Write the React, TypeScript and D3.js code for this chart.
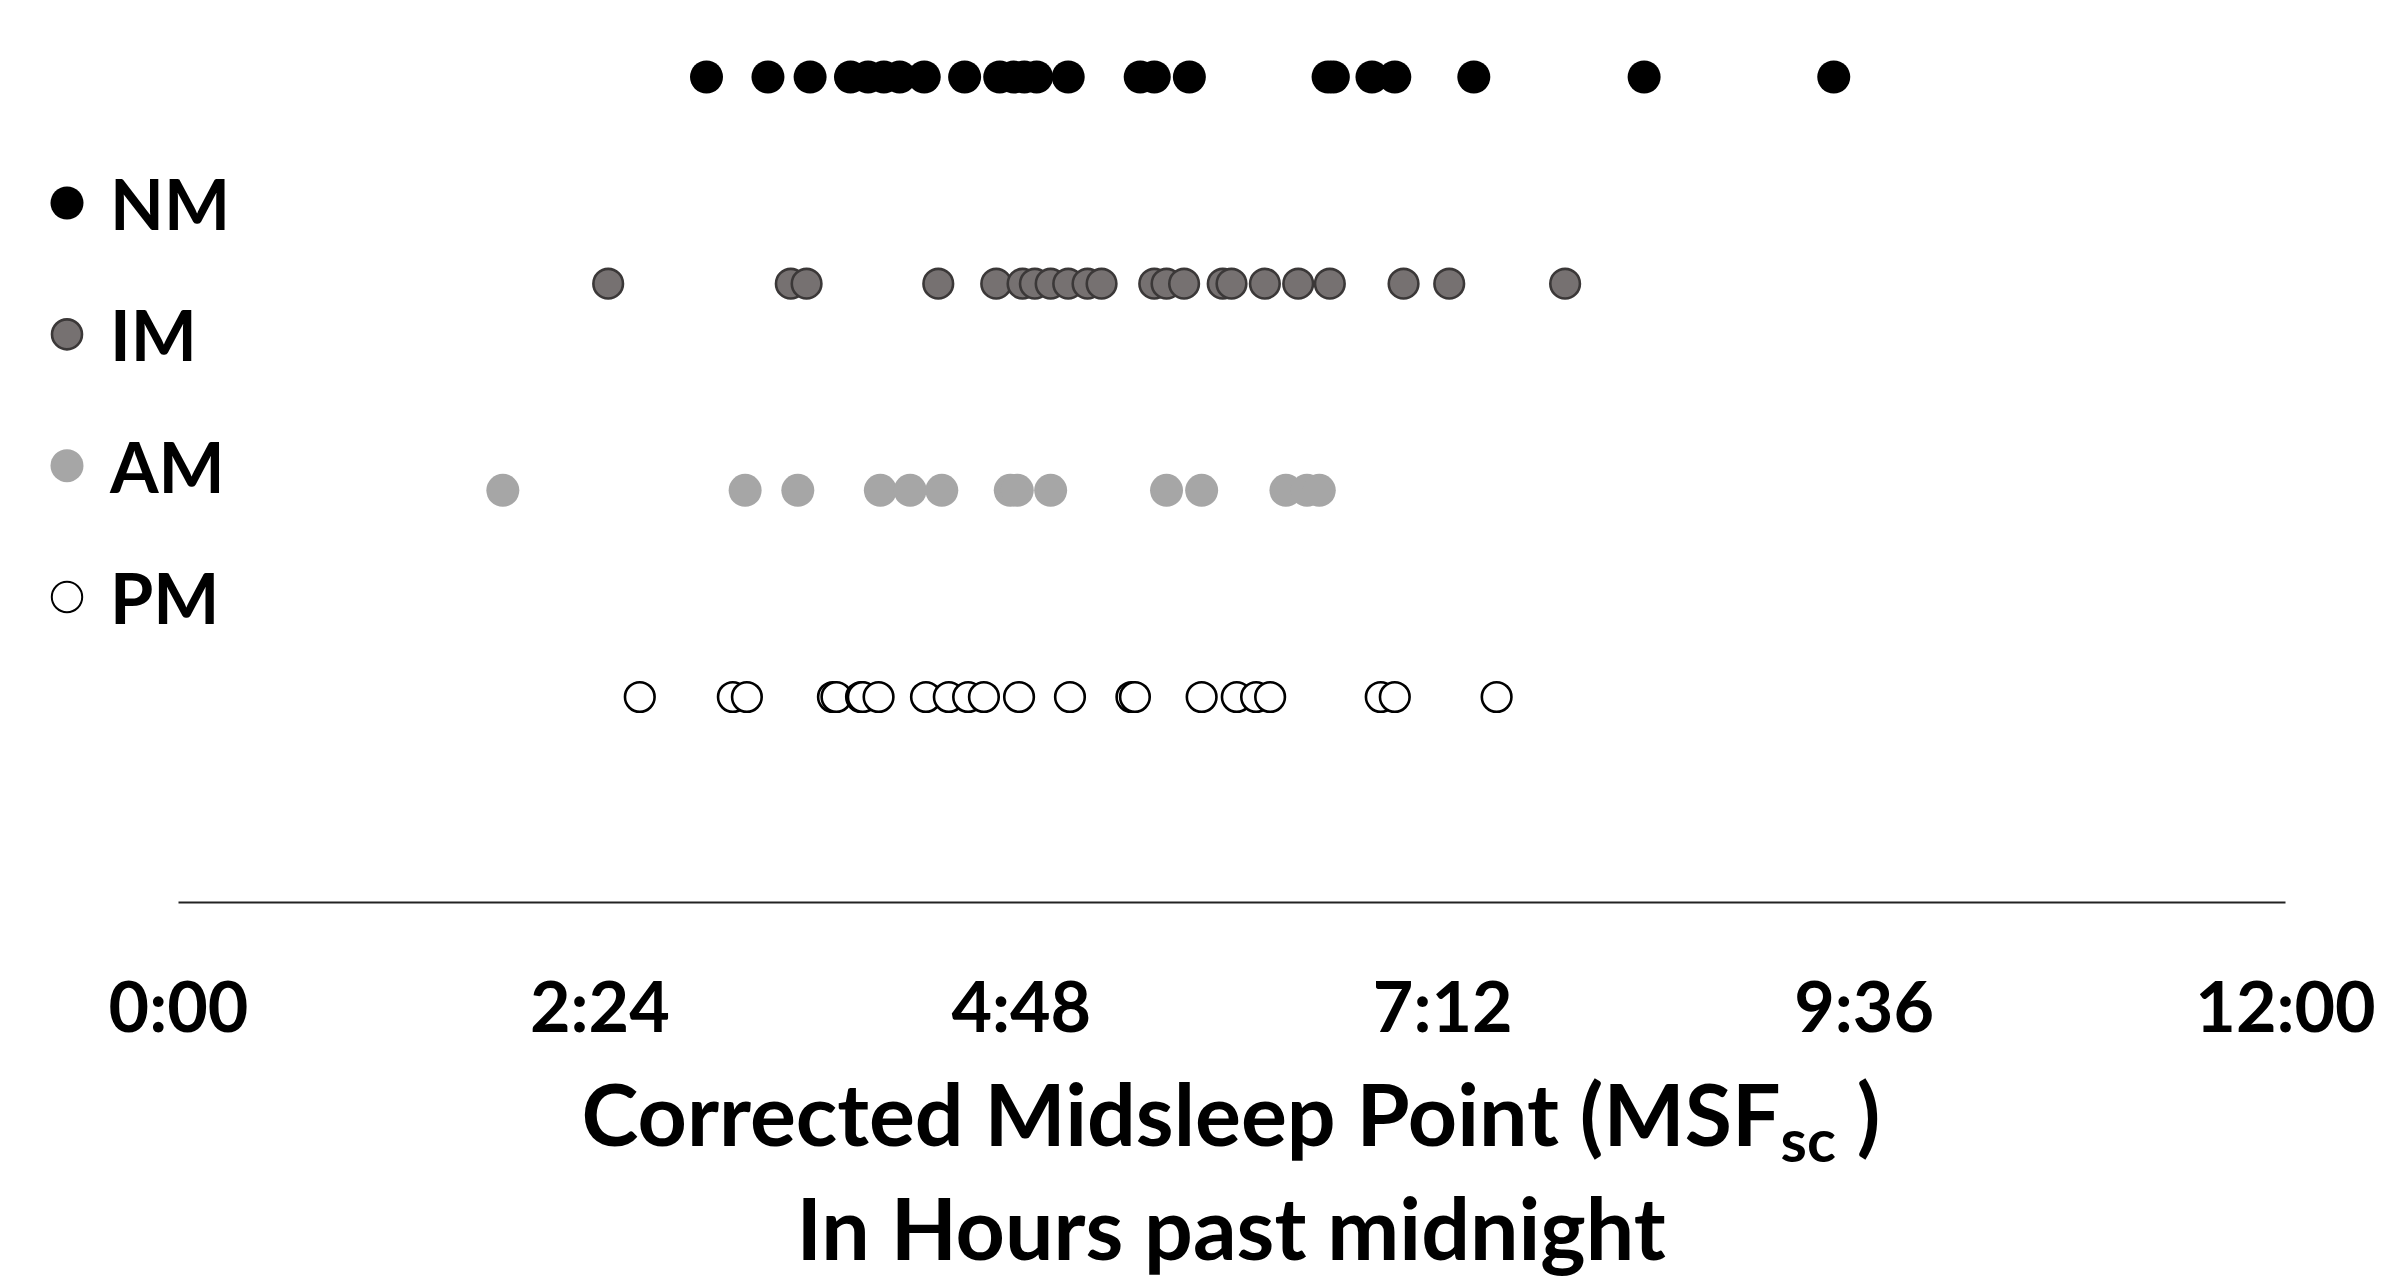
import React, { useEffect, useRef } from 'react';
import * as d3 from 'd3';

// midsleep points in decimal hours past midnight
const series = ['NM', 'IM', 'AM', 'PM'];

const nmHours = [3.01, 3.36, 3.6, 3.83, 3.93, 4.02, 4.11, 4.25, 4.48, 4.68, 4.76, 4.82, 4.89, 5.07, 5.48, 5.56, 5.76, 6.55, 6.58, 6.8, 6.93, 7.38, 8.35, 9.43];
const imHours = [2.45, 3.49, 3.58, 4.33, 4.66, 4.81, 4.88, 4.97, 5.07, 5.18, 5.26, 5.56, 5.63, 5.73, 5.95, 6.0, 6.19, 6.38, 6.56, 6.98, 7.24, 7.9];
const amHours = [1.85, 3.23, 3.53, 4.0, 4.17, 4.35, 4.74, 4.78, 4.97, 5.63, 5.83, 6.31, 6.43, 6.5];
const pmHours = [2.63, 3.16, 3.24, 3.73, 3.75, 3.89, 3.9, 3.99, 4.26, 4.39, 4.5, 4.59, 4.79, 5.08, 5.43, 5.45, 5.83, 6.03, 6.14, 6.22, 6.85, 6.93, 7.51];

const tickValues = [0, 2.4, 4.8, 7.2, 9.6, 12];
const tickLabels = ['0:00', '2:24', '4:48', '7:12', '9:36', '12:00'];

const values = { NM: nmHours, IM: imHours, AM: amHours, PM: pmHours };

const styles = {
  NM: { fill: '#000000', stroke: 'none', sw: 0, r: 16.5 },
  IM: { fill: '#767171', stroke: '#3b3838', sw: 2.6, r: 14.8 },
  AM: { fill: '#a6a6a6', stroke: 'none', sw: 0, r: 16.5 },
  PM: { fill: '#ffffff', stroke: '#000000', sw: 2.6, r: 14.8 },
};

const W = 2385;
const H = 1286;
const FONT = 'Lato, "Open Sans", sans-serif';

export default function App() {
  const axisRef = useRef(null);

  const x = d3.scaleLinear().domain([0, 12]).range([178, 2285]);
  const rowY = d3.scalePoint().domain(series).range([77, 697]);
  const legendY = d3.scalePoint().domain(series).range([203, 597]);
  const axisY = 902;

  useEffect(() => {
    const g = d3.select(axisRef.current);
    g.selectAll('*').remove();
    g.call(
      d3.axisBottom(x)
        .tickValues(tickValues)
        .tickFormat((d, i) => tickLabels[i])
        .tickSize(0)
        .tickSizeOuter(0)
        .tickPadding(80)
    );
    g.select('.domain').attr('stroke', '#222').attr('stroke-width', 2);
    g.selectAll('text')
      .attr('font-family', FONT)
      .attr('font-weight', 700)
      .attr('font-size', 70)
      .attr('fill', '#000');
  }, []);

  return (
    <svg width={W} height={H} style={{ position: 'absolute', left: 0, top: 0, background: '#fff' }}>
      {/* dot rows */}
      {series.map((s) => (
        <g key={s}>
          {values[s].map((v, i) => (
            <circle
              key={i}
              cx={x(v)}
              cy={rowY(s)}
              r={styles[s].r}
              fill={styles[s].fill}
              stroke={styles[s].stroke}
              strokeWidth={styles[s].sw}
            />
          ))}
        </g>
      ))}

      {/* legend */}
      {series.map((s) => (
        <g key={'lg' + s}>
          <circle
            cx={67}
            cy={legendY(s)}
            r={s === 'PM' ? 15.2 : s === 'IM' ? 15 : 16.5}
            fill={styles[s].fill}
            stroke={styles[s].stroke}
            strokeWidth={s === 'PM' ? 2 : styles[s].sw}
          />
          <text x={110} y={legendY(s) + 27} fontFamily={FONT} fontWeight={700} fontSize={70} fill="#000">
            {s}
          </text>
        </g>
      ))}

      <g ref={axisRef} transform={`translate(0,${axisY})`} />

      {/* axis title */}
      <text x={1231} y={1146} textAnchor="middle" fontFamily={FONT} fontWeight={700} fontSize={86} fill="#000">
        Corrected Midsleep Point (MSF
        <tspan fontSize={60} dy={16}>sc</tspan>
        <tspan dy={-16}> )</tspan>
      </text>
      <text x={1231} y={1260} textAnchor="middle" fontFamily={FONT} fontWeight={700} fontSize={86} fill="#000">
        In Hours past midnight
      </text>
    </svg>
  );
}
